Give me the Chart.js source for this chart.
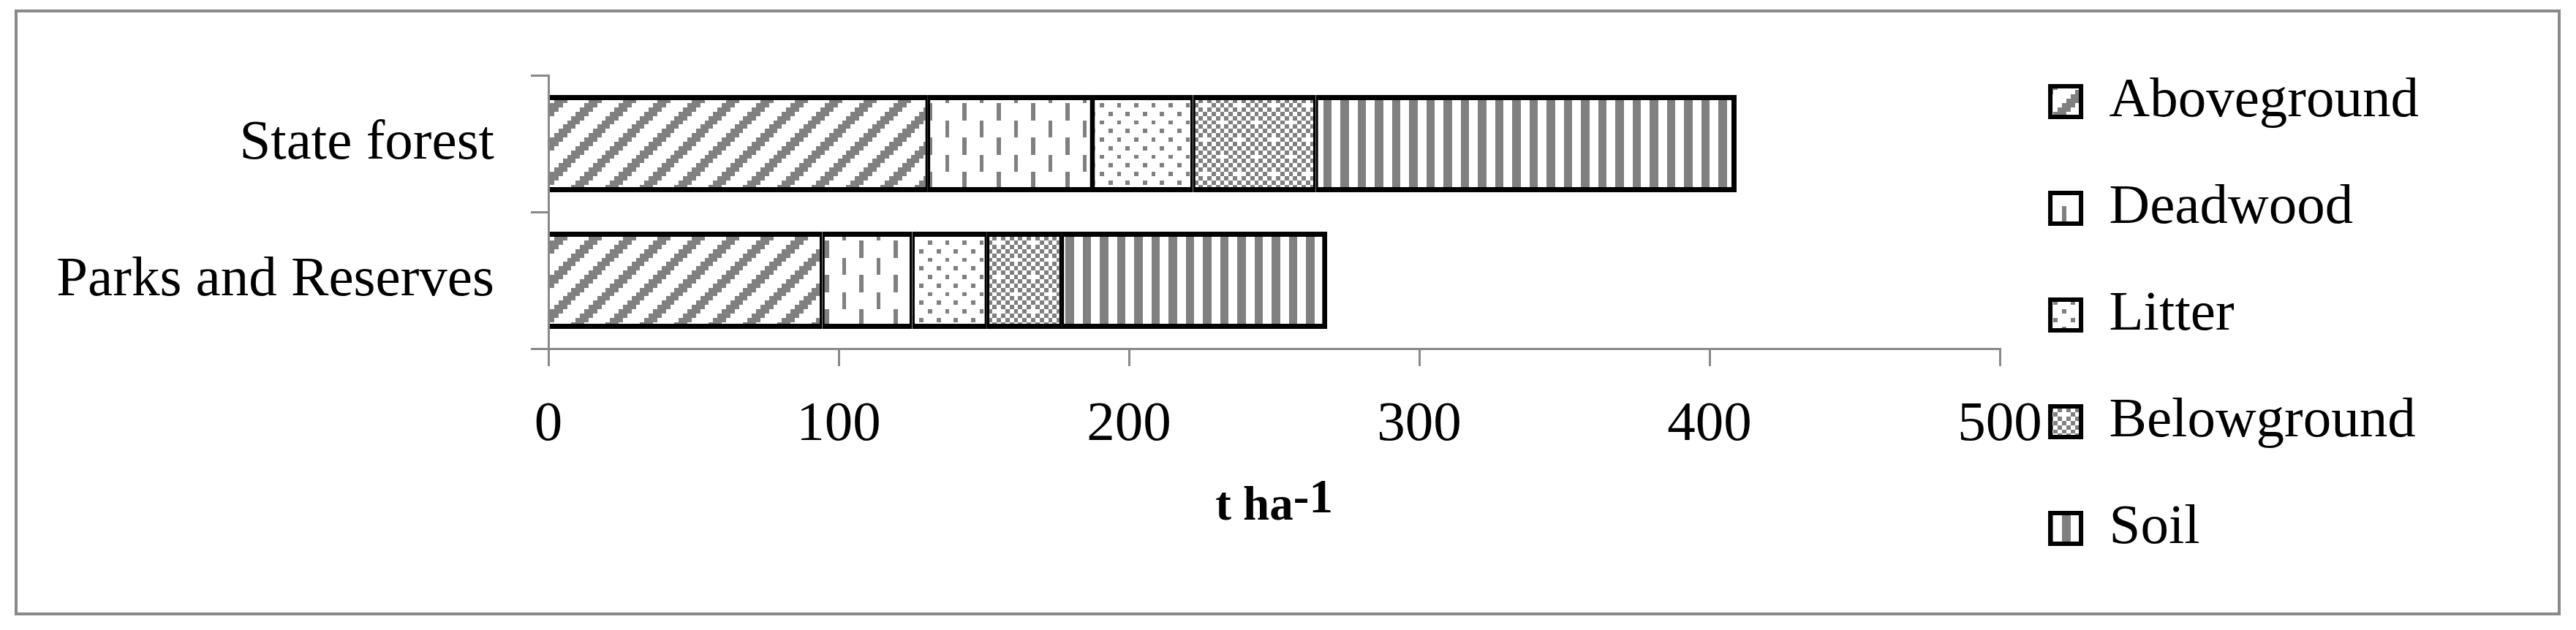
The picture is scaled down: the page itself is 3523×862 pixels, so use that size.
<!DOCTYPE html>
<html>
<head>
<meta charset="utf-8">
<script src="https://cdn.jsdelivr.net/npm/chart.js@4.4.1/dist/chart.umd.min.js"></script>
<style>
html,body{margin:0;padding:0;background:#fff;overflow:hidden}
canvas{display:block}
</style>
</head>
<body>
<canvas id="c" width="3523" height="862"></canvas>
<script>
// ---- data ----
const categories = ['State forest', 'Parks and Reserves'];
const seriesNames = ['Aboveground', 'Deadwood', 'Litter', 'Belowground', 'Soil'];
const aboveground = [130.7, 94.3];
const deadwood = [56.7, 31.0];
const litter = [34.6, 25.8];
const belowground = [42.3, 25.7];
const soil = [145.0, 91.5];
const xTicks = [0, 100, 200, 300, 400, 500];
const axisTitleMain = 't ha';
const axisTitleSup = '-1';

// ---- styles ----
const FONT = "'Liberation Serif', 'Times New Roman', serif";
const AXIS_GRAY = '#898989';
const PAT_GRAY = '#808080';
const TILE = 47;

function makePattern(on) {
  const c = document.createElement('canvas');
  c.width = TILE; c.height = TILE;
  const g = c.getContext('2d');
  g.fillStyle = '#fff';
  g.fillRect(0, 0, TILE, TILE);
  g.fillStyle = PAT_GRAY;
  const cell = TILE / 8;
  for (let r = 0; r < 8; r++) {
    for (let x = 0; x < 8; x++) {
      if (on(x, r)) {
        const x0 = Math.round(x * cell), x1 = Math.round((x + 1) * cell);
        const y0 = Math.round(r * cell), y1 = Math.round((r + 1) * cell);
        g.fillRect(x0, y0, x1 - x0, y1 - y0);
      }
    }
  }
  return document.getElementById('c').getContext('2d').createPattern(c, 'repeat');
}

const patterns = [
  makePattern((x, r) => [0, 1, 2].includes((x + r) % 8)),                 // wide upward diagonal
  makePattern((x, r) => (x === 0 && r < 4) || (x === 4 && r >= 4)),        // dashed vertical
  makePattern((x, r) => (r % 4 === 0 && x % 4 === 0) || (r % 4 === 2 && x % 4 === 2)), // dots
  makePattern((x, r) => (x + r) % 2 === 0 && !((x === 0 && r === 0) || (x === 4 && r === 4))), // checker
  makePattern((x, r) => x % 4 < 2)                                          // vertical stripes
];

const borders = [
  {top: 7, bottom: 7, left: 0, right: 3.5},
  {top: 7, bottom: 7, left: 3.5, right: 3.5},
  {top: 7, bottom: 7, left: 3.5, right: 3.5},
  {top: 7, bottom: 7, left: 3.5, right: 3.5},
  {top: 7, bottom: 7, left: 3.5, right: 7}
];

const seriesValues = [aboveground, deadwood, litter, belowground, soil];

const frame = {
  id: 'frame',
  beforeDraw(chart) {
    const ctx = chart.ctx;
    ctx.save();
    ctx.fillStyle = '#fff';
    ctx.fillRect(0, 0, chart.width, chart.height);
    ctx.strokeStyle = AXIS_GRAY;
    ctx.lineWidth = 4;
    ctx.strokeRect(22, 15, 3478, 825);
    ctx.restore();
  }
};

const xAxisTitle = {
  id: 'xAxisTitle',
  afterDraw(chart) {
    const ctx = chart.ctx;
    const a = chart.chartArea;
    ctx.save();
    ctx.font = 'bold 65px ' + FONT;
    ctx.fillStyle = '#000';
    ctx.textBaseline = 'alphabetic';
    ctx.textAlign = 'left';
    const w1 = ctx.measureText(axisTitleMain).width;
    const w2 = ctx.measureText(axisTitleSup).width;
    const cx = (a.left + a.right) / 2;
    const x0 = cx - (w1 + w2) / 2;
    const base = a.bottom + 234;
    ctx.fillText(axisTitleMain, x0, base);
    ctx.fillText(axisTitleSup, x0 + w1, base - 10);
    ctx.restore();
  }
};

Chart.defaults.font.family = FONT;
Chart.defaults.color = '#000';

new Chart(document.getElementById('c'), {
  type: 'bar',
  data: {
    labels: categories,
    datasets: seriesNames.map((name, i) => ({
      label: name,
      data: seriesValues[i],
      backgroundColor: patterns[i],
      borderColor: '#000',
      borderWidth: borders[i],
      borderSkipped: false,
      barPercentage: 0.71,
      categoryPercentage: 1
    }))
  },
  options: {
    indexAxis: 'y',
    responsive: false,
    animation: false,
    devicePixelRatio: 1,
    layout: {padding: {left: 0, right: 205, top: 0, bottom: 0}},
    plugins: {
      tooltip: {enabled: false},
      title: {display: true, text: '', padding: {top: 103, bottom: 0}, font: {size: 0}},
      legend: {
        position: 'right',
        align: 'center',
        labels: {
          boxWidth: 42,
          boxHeight: 42,
          padding: 69,
          color: '#000',
          font: {size: 77, family: FONT},
          generateLabels(chart) {
            const items = Chart.defaults.plugins.legend.labels.generateLabels(chart);
            items.forEach(it => { it.lineWidth = 6; it.strokeStyle = '#000'; });
            return items;
          }
        }
      }
    },
    scales: {
      x: {
        stacked: true,
        min: 0,
        max: 500,
        afterBuildTicks: s => { s.ticks = xTicks.map(v => ({value: v})); },
        ticks: {padding: 35, color: '#000', font: {size: 77}},
        grid: {drawOnChartArea: false, drawTicks: true, tickLength: 24, color: AXIS_GRAY, lineWidth: 3},
        border: {display: true, color: AXIS_GRAY, width: 3},
        afterFit: s => { s.height = 385; }
      },
      y: {
        stacked: true,
        ticks: {padding: 50, color: '#000', font: {size: 77}},
        grid: {drawOnChartArea: false, drawTicks: true, tickLength: 24, color: AXIS_GRAY, lineWidth: 3, offset: true},
        border: {display: true, color: AXIS_GRAY, width: 3, z: 1},
        afterFit: s => { s.width = 750; }
      }
    }
  },
  plugins: [frame, xAxisTitle]
});
</script>
</body>
</html>
